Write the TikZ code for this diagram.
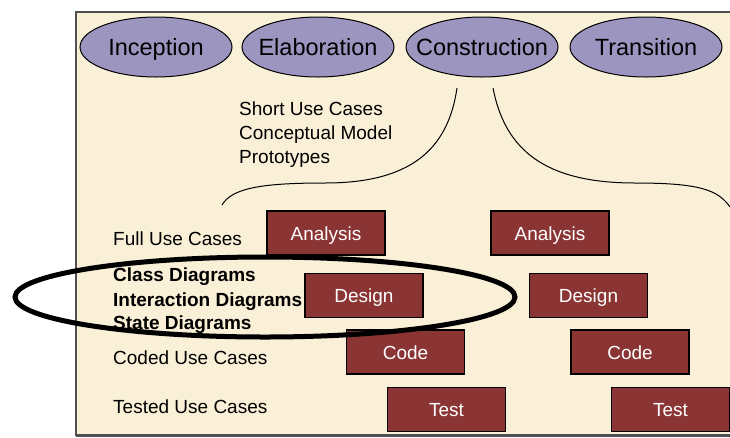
\documentclass[tikz,border=0pt]{standalone}
\usepackage{fontspec}
\setmainfont{Liberation Sans}
\usetikzlibrary{shapes.geometric}
\definecolor{parch}{RGB}{250,240,215}
\definecolor{phasefill}{RGB}{155,149,191}
\definecolor{boxred}{RGB}{138,52,52}
\definecolor{framegray}{RGB}{80,80,80}
\tikzset{
  phase/.style={ellipse, draw=black, line width=1pt, fill=phasefill, minimum width=152pt, minimum height=60pt, inner sep=0pt, text height=16.5pt, text depth=0pt, font=\fontsize{23.5}{28}\selectfont},
  actbox/.style={rectangle, draw=black, line width=1.1pt, fill=boxred, text=white, minimum width=118pt, minimum height=44pt, inner sep=0pt, text height=14pt, text depth=0pt, font=\fontsize{19}{23}\selectfont},
  lbl/.style={anchor=base west, inner sep=0pt, font=\fontsize{19}{23}\selectfont},
  blbl/.style={anchor=base west, inner sep=0pt, font=\fontsize{19}{23}\selectfont\bfseries},
  brace/.style={draw=black, line width=1pt},
  ring/.style={draw=black, line width=5pt}
}
\newcommand{\zw}[1]{\makebox[0pt]{#1}}
\begin{document}
\begin{tikzpicture}[x=1pt,y=-1pt]
\useasboundingbox (0,0) rectangle (730,437);
\fill[white] (0,0) rectangle (730,437);
\fill[parch] (76,12) rectangle (740,435);
\draw[framegray, line width=1.2pt] (740,12) -- (76,12) -- (76,435) -- (740,435);
\draw[framegray, line width=2.5pt] (76,435.5) -- (740,435.5);

\node[phase] (inc) at (156,47) {\zw{Inception}};
\node[phase] (ela) at (318,47) {\zw{Elaboration}};
\node[phase] (con) at (482,47) {\zw{Construction}};
\node[phase] (tra) at (646,47) {\zw{Transition}};

\node[lbl] (suc) at (239,115) {Short Use Cases};
\node[lbl] (cm) at (239,139) {Conceptual Model};
\node[lbl] (pro) at (239,163) {Prototypes};

\coordinate (lt) at (457,88);
\coordinate (lm) at (325,183);
\coordinate (lb) at (222,205);
\coordinate (rt) at (493,88);
\coordinate (rm) at (635,183);
\coordinate (rb) at (730,207);
\draw[brace] (lt) .. controls (448,150) and (410,183) .. (lm) .. controls (262,183) and (232,188) .. (lb);
\draw[brace] (rt) .. controls (505,150) and (545,183) .. (rm) .. controls (700,183) and (718,190) .. (rb);

\node[lbl] (fuc) at (113,245) {Full Use Cases};
\node[blbl] (cd) at (113,281) {Class Diagrams};
\node[blbl] (id) at (113,306) {Interaction Diagrams};
\node[blbl] (sd) at (113,329) {State Diagrams};
\node[lbl] (cuc) at (113,364) {Coded Use Cases};
\node[lbl] (tuc) at (113,413) {Tested Use Cases};

\node[actbox] (a1) at (326,233) {Analysis};
\node[actbox] (a2) at (550,233) {Analysis};
\node[actbox] (d1) at (364,295.5) {Design};
\node[actbox] (d2) at (588.5,295.5) {Design};
\node[actbox] (c1) at (405.5,352) {Code};
\node[actbox] (c2) at (630,352) {Code};
\node[actbox] (t1) at (446.5,409.5) {Test};
\node[actbox] (t2) at (670.5,409.5) {Test};

\draw[ring] (265,297) ellipse [x radius=250, y radius=40];
\end{tikzpicture}
\end{document}
